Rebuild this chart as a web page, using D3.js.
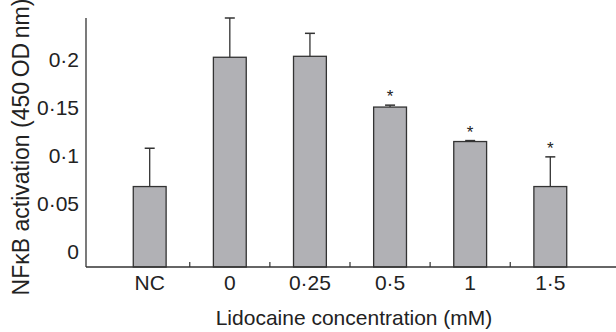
<!DOCTYPE html>
<html>
<head>
<meta charset="utf-8">
<script src="https://cdn.jsdelivr.net/npm/d3@7"></script>
<style>
  body { margin: 0; background: #fff; }
  svg { display: block; }
  text { font-family: "Liberation Sans", Arial, Helvetica, sans-serif; fill: #222; }
</style>
</head>
<body>
<svg id="canvas" width="616" height="332"></svg>
<script>
const categories = ["NC", "0", "0.25", "0.5", "1", "1.5"];
const values = [0.068, 0.203, 0.204, 0.151, 0.115, 0.068];
const errors = [0.040, 0.041, 0.024, 0.002, 0.001, 0.031];
const significant = [false, false, false, true, true, true];
const yTicks = [0, 0.05, 0.1, 0.15, 0.2];

const data = categories.map((c, i) => ({label: c, value: values[i], err: errors[i], sig: significant[i]}));

const svg = d3.select("#canvas");
const plotLeft = 86, plotRight = 614, plotTop = 18, plotBottom = 267;
const fontSize = "21px";

// dot as decimal separator, like the journal figure
const dot = s => String(s).replace(".", "\u00b7");

let x = d3.scaleBand().domain(categories).range([plotLeft, plotRight]).padding(0.59);
let y = d3.scaleLinear().domain([-0.016, 0.244]).range([plotBottom, plotTop]);

// y axis: labels only, no tick marks
let yAxis = svg.append("g")
  .attr("transform", `translate(${plotLeft},0)`)
  .call(d3.axisLeft(y).tickValues(yTicks).tickSize(0).tickPadding(7).tickFormat(dot));
yAxis.select(".domain").remove();
yAxis.selectAll("text").style("font-size", fontSize).attr("fill", "#222");

// x axis labels
let xAxis = svg.append("g")
  .attr("transform", `translate(0,${plotBottom})`)
  .call(d3.axisBottom(x).tickSize(0).tickPadding(8).tickFormat(dot));
xAxis.select(".domain").remove();
xAxis.selectAll("text").style("font-size", fontSize).attr("fill", "#222");

// bars
svg.selectAll(".bar")
  .data(data)
  .enter().append("rect")
    .attr("class", "bar")
    .attr("x", d => x(d.label))
    .attr("width", x.bandwidth())
    .attr("y", d => y(d.value))
    .attr("height", d => plotBottom - y(d.value))
    .attr("fill", "#b1b1b5")
    .attr("stroke", "#333")
    .attr("stroke-width", 1.3);

// error bars (upper only)
const cx = d => x(d.label) + x.bandwidth() / 2;
let eb = svg.selectAll(".err").data(data).enter().append("g").attr("class", "err");
eb.append("line")
  .attr("x1", cx).attr("x2", cx)
  .attr("y1", d => y(d.value))
  .attr("y2", d => y(d.value + d.err))
  .attr("stroke", "#333").attr("stroke-width", 1.3);
eb.append("line")
  .attr("x1", d => cx(d) - 5)
  .attr("x2", d => cx(d) + 5)
  .attr("y1", d => y(d.value + d.err))
  .attr("y2", d => y(d.value + d.err))
  .attr("stroke", "#333").attr("stroke-width", 1.5);

// significance stars
svg.selectAll(".star")
  .data(data.filter(d => d.sig))
  .enter().append("text")
    .attr("class", "star")
    .attr("x", cx)
    .attr("y", d => y(d.value + d.err) - 3)
    .attr("text-anchor", "middle")
    .style("font-size", "17px")
    .text("*");

// axis lines
svg.append("line")
  .attr("x1", plotLeft).attr("x2", plotLeft).attr("y1", plotTop).attr("y2", plotBottom)
  .attr("stroke", "#333").attr("stroke-width", 1.3);
svg.append("line")
  .attr("x1", plotLeft).attr("x2", 616).attr("y1", plotBottom).attr("y2", plotBottom)
  .attr("stroke", "#333").attr("stroke-width", 1.3);

// small upward ticks between categories
const sepX = d => x(d) - x.step() * x.paddingInner() / 2;
svg.selectAll(".sep")
  .data(categories.slice(1))
  .enter().append("line")
    .attr("class", "sep")
    .attr("x1", sepX).attr("x2", sepX)
    .attr("y1", plotBottom)
    .attr("y2", plotBottom - 5)
    .attr("stroke", "#333").attr("stroke-width", 1.2);

// axis titles
svg.append("text")
  .attr("x", 354).attr("y", 317)
  .attr("text-anchor", "middle")
  .attr("dominant-baseline", "central")
  .style("font-size", fontSize)
  .text("Lidocaine concentration (mM)");

svg.append("text")
  .attr("transform", "translate(21,147) rotate(-90)")
  .attr("text-anchor", "middle")
  .attr("dominant-baseline", "central")
  .style("font-size", "23px")
  .text("NF\u03baB activation (450\u2009OD\u2009nm)");
</script>
</body>
</html>
